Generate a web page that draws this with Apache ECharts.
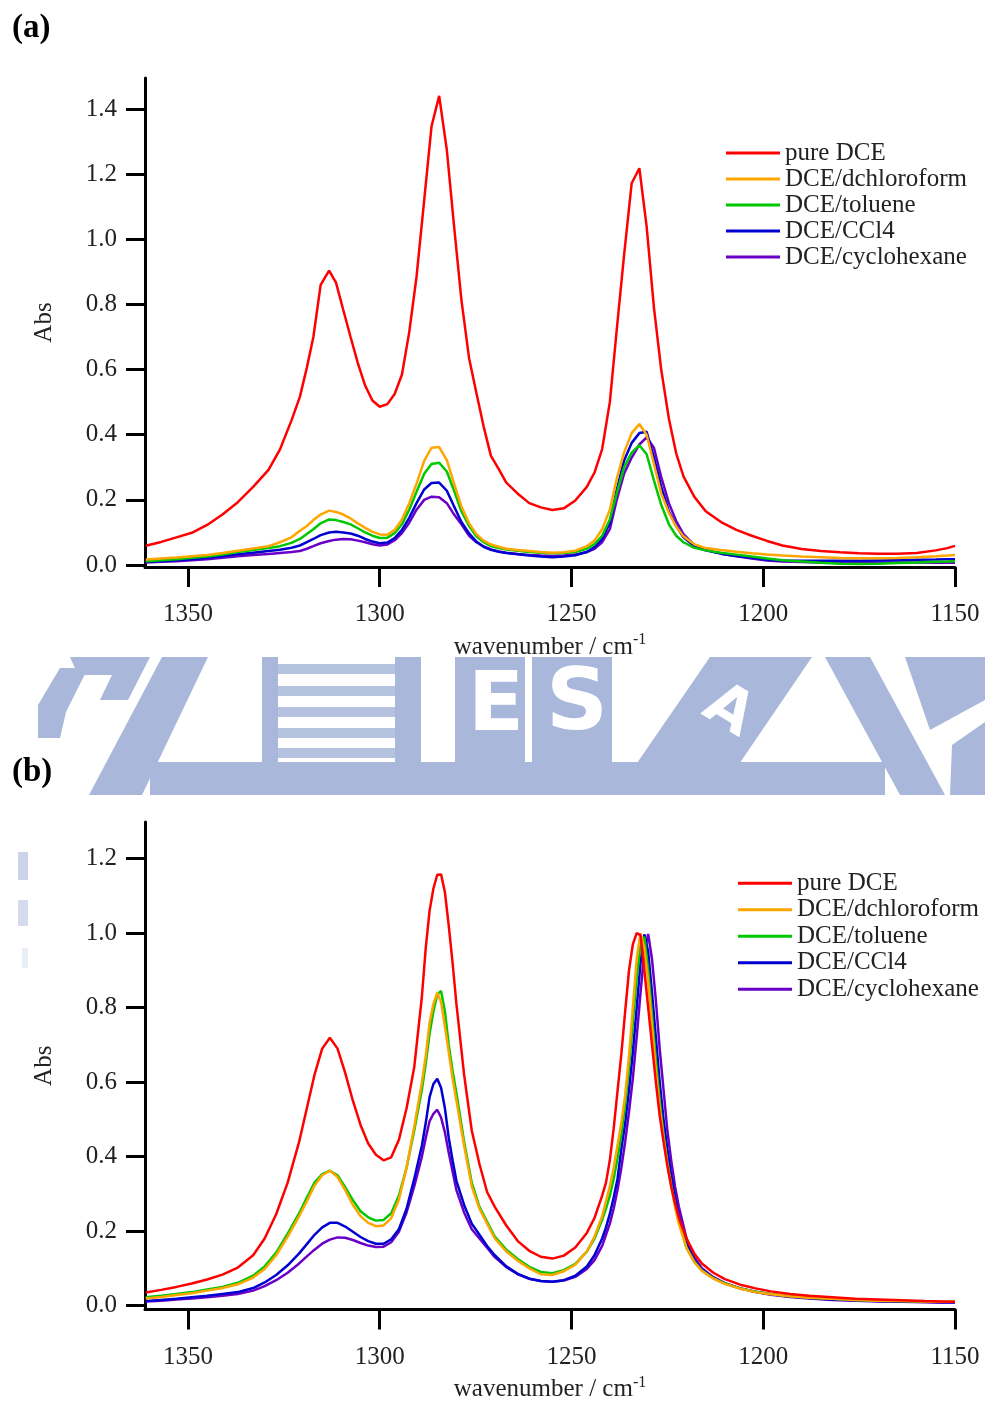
<!DOCTYPE html>
<html><head><meta charset="utf-8">
<script src="https://cdn.jsdelivr.net/npm/echarts@6/dist/echarts.min.js"></script>
<style>html,body{margin:0;padding:0;background:#fff}#c{width:985px;height:1403px}</style>
</head><body><div id="c"></div>
<script>
const seriesNames = ['pure DCE','DCE/dchloroform','DCE/toluene','DCE/CCl4','DCE/cyclohexane'];
const colors = ['#ff0000','#ffa500','#00c800','#0000d0','#6a00c8'];
const xTicks = [1350,1300,1250,1200,1150];
const yTicksA = [0,0.2,0.4,0.6,0.8,1.0,1.2,1.4];
const yTicksB = [0,0.2,0.4,0.6,0.8,1.0,1.2];

// Panel (a)
const waveA = [1361,1357,1353,1349,1345,1341,1337,1333,1329,1326,1323,1320.8,1319,1317.3,1315.4,1313.2,1311.4,1309.5,1307.6,1305.7,1303.8,1301.9,1300,1298,1296.1,1294.2,1292.3,1290.4,1288.4,1286.5,1284.5,1282.5,1280.6,1278.7,1276.7,1274.8,1272.9,1271,1269,1267,1264,1261,1258,1255,1252,1249,1246,1244,1242,1240,1238.2,1236.3,1234.3,1232.3,1230.4,1228.5,1226.6,1224.6,1222.7,1220.8,1218,1215,1211,1207,1203,1199,1195,1190,1185,1180,1175,1170,1165,1160,1155,1152,1150];
const pureA = [0.059,0.071,0.085,0.099,0.123,0.155,0.193,0.24,0.292,0.355,0.444,0.517,0.606,0.70,0.86,0.904,0.867,0.783,0.70,0.62,0.551,0.505,0.486,0.494,0.525,0.585,0.715,0.885,1.12,1.346,1.44,1.274,1.039,0.814,0.635,0.529,0.425,0.335,0.295,0.253,0.219,0.19,0.177,0.169,0.174,0.198,0.24,0.284,0.356,0.50,0.722,0.95,1.172,1.218,1.039,0.79,0.60,0.449,0.343,0.272,0.21,0.165,0.132,0.108,0.09,0.074,0.06,0.049,0.043,0.039,0.036,0.035,0.035,0.037,0.045,0.052,0.059];
const chloroA = [0.017,0.02,0.023,0.027,0.031,0.037,0.044,0.051,0.058,0.07,0.085,0.105,0.12,0.138,0.155,0.167,0.163,0.155,0.143,0.128,0.114,0.102,0.094,0.093,0.108,0.14,0.19,0.25,0.32,0.36,0.362,0.322,0.25,0.18,0.128,0.095,0.075,0.063,0.056,0.05,0.046,0.043,0.04,0.038,0.039,0.044,0.058,0.075,0.11,0.17,0.265,0.345,0.405,0.433,0.40,0.31,0.22,0.16,0.118,0.088,0.064,0.052,0.046,0.041,0.036,0.032,0.029,0.026,0.024,0.022,0.021,0.021,0.022,0.024,0.027,0.029,0.031];
const tolueneA = [0.012,0.015,0.018,0.022,0.026,0.032,0.04,0.046,0.052,0.058,0.068,0.08,0.095,0.11,0.128,0.14,0.138,0.132,0.125,0.113,0.1,0.09,0.083,0.084,0.098,0.125,0.17,0.225,0.28,0.31,0.314,0.287,0.228,0.165,0.12,0.088,0.07,0.058,0.052,0.048,0.044,0.04,0.038,0.036,0.037,0.04,0.05,0.064,0.09,0.14,0.22,0.30,0.345,0.368,0.34,0.26,0.185,0.125,0.09,0.07,0.053,0.045,0.038,0.032,0.026,0.02,0.015,0.011,0.007,0.004,0.003,0.004,0.006,0.008,0.01,0.011,0.012];
const ccl4A = [0.01,0.012,0.015,0.018,0.022,0.027,0.033,0.038,0.043,0.047,0.053,0.06,0.07,0.08,0.092,0.1,0.102,0.1,0.097,0.09,0.08,0.072,0.067,0.069,0.083,0.108,0.145,0.19,0.232,0.252,0.253,0.228,0.18,0.132,0.097,0.072,0.056,0.047,0.041,0.037,0.033,0.029,0.026,0.024,0.026,0.03,0.04,0.055,0.08,0.13,0.23,0.32,0.375,0.405,0.409,0.33,0.24,0.165,0.12,0.085,0.058,0.045,0.035,0.028,0.022,0.016,0.014,0.013,0.013,0.013,0.013,0.014,0.015,0.016,0.017,0.018,0.018];
const cyclohexA = [0.008,0.01,0.012,0.015,0.018,0.022,0.027,0.031,0.034,0.037,0.04,0.043,0.05,0.058,0.067,0.074,0.078,0.08,0.079,0.075,0.07,0.064,0.06,0.063,0.076,0.098,0.13,0.17,0.2,0.21,0.208,0.19,0.155,0.125,0.09,0.07,0.057,0.048,0.042,0.038,0.034,0.031,0.029,0.028,0.029,0.032,0.04,0.05,0.07,0.11,0.2,0.28,0.33,0.37,0.392,0.36,0.27,0.19,0.135,0.095,0.062,0.046,0.035,0.027,0.02,0.014,0.011,0.009,0.008,0.008,0.008,0.008,0.008,0.008,0.007,0.007,0.007];

// Panel (b)
const waveB = [1361,1357,1353,1349,1345,1341,1337,1333,1330,1327,1324,1321,1319,1317,1315,1313,1311,1309,1307,1305,1303,1301,1299,1297,1295,1293,1291,1289,1288,1287,1286,1285,1284,1283,1282,1281,1280,1278,1276,1274,1272,1270,1267,1264,1261,1258,1255,1252,1249,1246,1244,1242,1241,1240,1239,1238,1237,1236,1235,1234,1233,1232,1231,1230,1229,1228,1227,1226,1225,1224,1223,1222,1220,1218,1216,1213,1210,1206,1202,1198,1193,1188,1182,1176,1170,1164,1158,1154,1150];
const pureB = [0.035,0.042,0.05,0.059,0.07,0.083,0.102,0.135,0.18,0.245,0.33,0.44,0.53,0.62,0.69,0.719,0.69,0.625,0.55,0.485,0.435,0.405,0.39,0.398,0.445,0.53,0.64,0.83,0.96,1.06,1.12,1.157,1.158,1.11,1.02,0.92,0.81,0.62,0.47,0.38,0.305,0.265,0.215,0.173,0.147,0.131,0.126,0.134,0.156,0.195,0.235,0.295,0.33,0.39,0.475,0.575,0.675,0.79,0.9,0.97,1.0,0.995,0.9,0.8,0.7,0.6,0.51,0.44,0.375,0.32,0.275,0.235,0.18,0.14,0.113,0.088,0.071,0.056,0.046,0.038,0.031,0.026,0.022,0.018,0.016,0.014,0.012,0.011,0.01];
const chloroB = [0.019,0.023,0.028,0.033,0.04,0.047,0.057,0.075,0.098,0.135,0.185,0.24,0.28,0.322,0.35,0.362,0.345,0.31,0.27,0.24,0.222,0.213,0.215,0.235,0.285,0.37,0.48,0.6,0.67,0.76,0.81,0.84,0.815,0.75,0.68,0.61,0.55,0.43,0.32,0.26,0.22,0.18,0.145,0.12,0.1,0.084,0.082,0.092,0.11,0.145,0.185,0.24,0.28,0.32,0.37,0.43,0.49,0.565,0.67,0.8,0.93,1.0,0.96,0.87,0.75,0.63,0.53,0.45,0.38,0.32,0.265,0.22,0.155,0.117,0.093,0.072,0.058,0.045,0.036,0.03,0.025,0.021,0.018,0.015,0.013,0.012,0.011,0.01,0.01];
const tolueneB = [0.022,0.026,0.031,0.036,0.043,0.05,0.061,0.08,0.105,0.142,0.193,0.248,0.29,0.33,0.353,0.362,0.35,0.318,0.283,0.253,0.237,0.228,0.23,0.248,0.295,0.37,0.47,0.58,0.65,0.73,0.79,0.835,0.845,0.79,0.7,0.63,0.57,0.44,0.33,0.265,0.225,0.185,0.15,0.125,0.104,0.09,0.087,0.095,0.112,0.145,0.18,0.23,0.26,0.295,0.34,0.395,0.46,0.54,0.64,0.76,0.88,0.97,0.99,0.9,0.78,0.66,0.55,0.46,0.385,0.325,0.27,0.225,0.155,0.118,0.094,0.073,0.059,0.046,0.037,0.031,0.025,0.021,0.018,0.015,0.013,0.012,0.011,0.01,0.01];
const ccl4B = [0.012,0.015,0.018,0.022,0.026,0.031,0.036,0.047,0.062,0.082,0.108,0.14,0.165,0.19,0.21,0.222,0.222,0.212,0.198,0.184,0.173,0.166,0.166,0.178,0.205,0.26,0.34,0.43,0.49,0.56,0.595,0.609,0.585,0.53,0.45,0.39,0.335,0.27,0.22,0.19,0.16,0.135,0.105,0.085,0.072,0.066,0.064,0.068,0.08,0.105,0.135,0.18,0.21,0.246,0.29,0.34,0.42,0.49,0.58,0.68,0.8,0.92,0.997,0.95,0.84,0.72,0.6,0.5,0.42,0.35,0.29,0.24,0.165,0.122,0.096,0.074,0.059,0.046,0.037,0.03,0.024,0.02,0.016,0.014,0.012,0.011,0.01,0.009,0.009];
const cyclohexB = [0.011,0.013,0.016,0.019,0.022,0.026,0.031,0.04,0.052,0.068,0.088,0.113,0.132,0.15,0.166,0.177,0.183,0.182,0.176,0.168,0.161,0.157,0.158,0.17,0.198,0.25,0.32,0.4,0.45,0.495,0.515,0.526,0.505,0.465,0.41,0.36,0.31,0.25,0.205,0.18,0.155,0.13,0.103,0.084,0.072,0.066,0.064,0.067,0.077,0.098,0.122,0.16,0.19,0.22,0.26,0.31,0.37,0.44,0.52,0.61,0.72,0.84,0.95,0.998,0.93,0.82,0.69,0.58,0.47,0.39,0.32,0.265,0.18,0.13,0.1,0.076,0.06,0.046,0.036,0.029,0.023,0.019,0.015,0.013,0.011,0.01,0.009,0.008,0.008];

const panelA = [pureA, chloroA, tolueneA, ccl4A, cyclohexA];
const panelB = [pureB, chloroB, tolueneB, ccl4B, cyclohexB];

const FONT = "'Liberation Serif','Times New Roman',serif";
const zip = (w, v) => w.map((x, i) => [x, v[i]]);

const series = [];
[panelA, panelB].forEach((panel, p) => {
  const w = p === 0 ? waveA : waveB;
  panel.forEach((vals, k) => {
    series.push({
      type: 'line', name: seriesNames[k], xAxisIndex: p, yAxisIndex: p,
      data: zip(w, vals), showSymbol: false, symbol: 'none',
      lineStyle: { color: colors[k], width: 2.5 }, itemStyle: { color: colors[k] },
      z: 3 + (5 - k), animation: false, silent: true
    });
  });
});

function xAxisCfg(i) {
  return {
    type: 'value', gridIndex: i, min: 1150, max: 1361.2, inverse: true,
    axisLine: { show: true, onZero: false, lineStyle: { color: '#000', width: 3 } },
    axisTick: { show: true, length: 20, customValues: xTicks, lineStyle: { color: '#000', width: 3 } },
    axisLabel: { customValues: xTicks, margin: 35, fontFamily: FONT, fontSize: 25, color: '#222',
                 formatter: v => String(v) },
    splitLine: { show: false },
    name: 'wavenumber / cm{sup|-1}', nameLocation: 'middle', nameGap: 65,
    nameTextStyle: { fontFamily: FONT, fontSize: 25, color: '#222',
      rich: { sup: { fontFamily: FONT, fontSize: 16, color: '#222', verticalAlign: 'top', padding: [0,0,14,0] } } }
  };
}
function yAxisCfg(i, min, max, ticks) {
  return {
    type: 'value', gridIndex: i, min: min, max: max,
    axisLine: { show: true, onZero: false, lineStyle: { color: '#000', width: 3 } },
    axisTick: { show: true, length: 19, customValues: ticks, lineStyle: { color: '#000', width: 3 } },
    axisLabel: { customValues: ticks, margin: 28, fontFamily: FONT, fontSize: 25, color: '#222',
                 formatter: v => v.toFixed(1) },
    splitLine: { show: false },
    name: 'Abs', nameLocation: 'middle', nameGap: 88, nameRotate: 90,
    nameTextStyle: { fontFamily: FONT, fontSize: 25, color: '#222' }
  };
}
function legendCfg(left, top, lh) {
  return {
    orient: 'vertical', left: left, top: top, padding: 0, itemGap: 0,
    itemWidth: 54, itemHeight: 3, icon: 'rect', selectedMode: false,
    data: seriesNames,
    textStyle: { fontFamily: FONT, fontSize: 25, color: '#222', lineHeight: lh }
  };
}

const WM = '#a8b7da';
const wm = [];
function poly(points, opacity) { wm.push({ type: 'polygon', shape: { points: points }, style: { fill: WM, opacity: opacity || 1 }, z: -10, silent: true }); }
function rect(x, y, w, h, opacity) { wm.push({ type: 'rect', shape: { x: x, y: y, width: w, height: h }, style: { fill: WM, opacity: opacity || 1 }, z: -10, silent: true }); }
// watermark band (logo fragment)
poly([[38,705],[60,668],[88,668],[66,712],[60,738],[38,738]]);
poly([[70,657],[150,657],[128,700],[100,700],[112,675],[78,675]]);
poly([[89,795],[142,795],[208,657],[162,657]]);
rect(150, 762, 735, 33);
rect(262, 657, 16, 105);
rect(395, 657, 26, 105);
[664, 686, 707, 728, 748].forEach(y => rect(278, y, 117, 10, 0.85));
rect(455, 657, 70, 105);
rect(532, 657, 80, 105);
poly([[615,795],[718,795],[812,657],[710,657]]);
poly([[825,657],[870,657],[945,795],[900,795]]);
poly([[905,657],[985,657],[985,700],[930,730]]);
poly([[950,795],[952,745],[985,722],[985,795]]);
rect(18, 852, 10, 28, 0.6);
rect(18, 900, 10, 26, 0.5);
rect(22, 948, 6, 20, 0.25);

const graphics = wm.concat([
  { type: 'text', left: 468, top: 668, style: { text: 'E', fill: '#fff', font: "bold 82px 'DejaVu Sans'" }, z: -9, silent: true },
  { type: 'text', left: 546, top: 664, style: { text: 'S', fill: '#fff', font: "bold 86px 'DejaVu Sans'" }, z: -9, silent: true },
  { type: 'text', x: 728, y: 712, rotation: -0.55, style: { text: 'A', fill: '#fff', font: "bold 60px 'DejaVu Sans'", align: 'center', verticalAlign: 'middle' }, z: -9, silent: true },
  { type: 'text', left: 12, top: 12, style: { text: '(a)', fill: '#000', font: "bold 33px 'Liberation Serif'" } },
  { type: 'text', left: 12, top: 756, style: { text: '(b)', fill: '#000', font: "bold 33px 'Liberation Serif'" } }
]);

const chart = echarts.init(document.getElementById('c'), null, { renderer: 'canvas' });
chart.setOption({
  animation: false,
  backgroundColor: '#fff',
  grid: [
    { left: 145, top: 78, width: 810, height: 489 },
    { left: 145, top: 822, width: 810, height: 491 }
  ],
  xAxis: [xAxisCfg(0), xAxisCfg(1)],
  yAxis: [yAxisCfg(0, -0.006, 1.495, yTicksA), yAxisCfg(1, -0.0107, 1.2987, yTicksB)],
  legend: [legendCfg(726, 140, 26), legendCfg(738, 870, 26.5)],
  graphic: graphics,
  series: series
});
</script></body></html>
